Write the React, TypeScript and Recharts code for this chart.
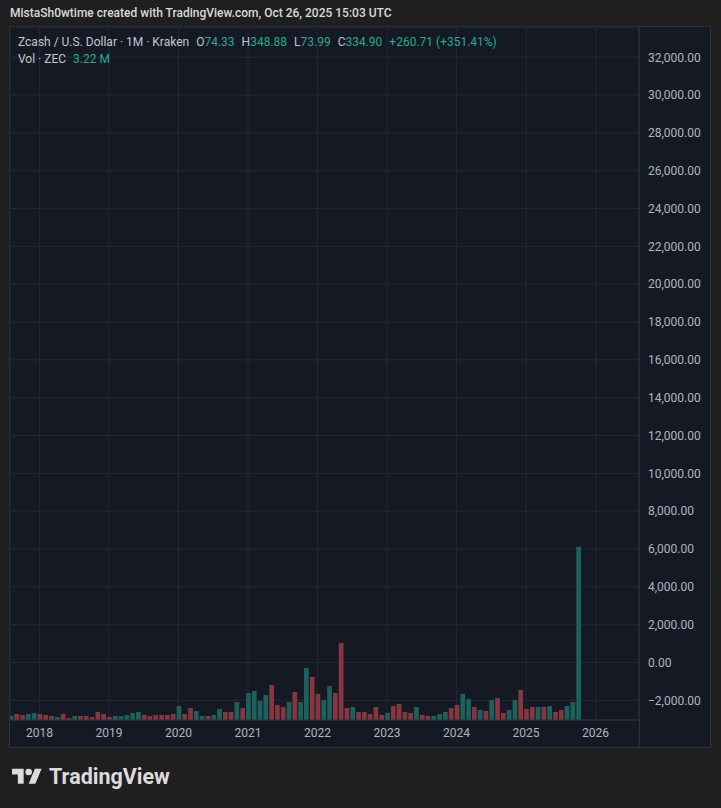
import React from "react";
import { ComposedChart, Bar, XAxis, YAxis, CartesianGrid, Cell } from "recharts";

// monthly ZEC volume (thousands), Aug 2017 -> Oct 2025
const VOLUME_K = [
  74, 112, 93, 112, 130, 112, 93, 74, 56, 112, 37, 74, 74, 74, 56, 149, 112, 56, 74, 74,
  93, 130, 149, 93, 74, 93, 93, 93, 112, 260, 112, 223, 167, 74, 74, 93, 205, 149, 149, 335,
  223, 502, 539, 353, 465, 651, 279, 242, 335, 521, 335, 967, 800, 484, 372, 632, 502, 1432, 223, 242,
  149, 149, 112, 242, 93, 130, 260, 298, 149, 130, 242, 93, 74, 74, 112, 149, 223, 279, 484, 391,
  242, 186, 167, 372, 409, 130, 186, 372, 558, 205, 242, 242, 242, 260, 149, 186, 260, 335, 3220,
];

// candle direction for each month: u = close above open, d = below
const DIRECTION = [
  "u", "d", "d", "u", "u", "d", "d", "d", "u", "d", "d", "u", "d", "d", "d", "d", "d", "d", "u", "u",
  "u", "u", "u", "d", "d", "d", "d", "d", "d", "u", "d", "d", "u", "u", "d", "u", "u", "d", "d", "u",
  "d", "u", "u", "u", "u", "d", "d", "d", "u", "d", "u", "u", "d", "d", "u", "u", "d", "d", "d", "u",
  "d", "d", "d", "d", "d", "u", "d", "d", "d", "d", "u", "d", "d", "u", "u", "u", "d", "d", "u", "u",
  "d", "u", "d", "u", "d", "d", "u", "u", "d", "d", "d", "u", "d", "u", "d", "d", "u", "u", "u",
];

const FIRST_YEAR = 2017;
const FIRST_MONTH = 8; // August
const YEAR_LABELS = ["2018", "2019", "2020", "2021", "2022", "2023", "2024", "2025", "2026"];
const PRICE_TICKS = [
  -2000, 0, 2000, 4000, 6000, 8000, 10000, 12000, 14000, 16000, 18000, 20000, 22000, 24000,
  26000, 28000, 30000, 32000,
];

const UP = "#1c625c";
const DOWN = "#86363e";
const TEAL = "#22ab94";
const GRID = "#242833";
const EDGE = "#2e323e";
const TXT = "#b2b5be";

const data = VOLUME_K.map((v, i) => ({ idx: i, vol: v, dir: DIRECTION[i] }));
const yearTicks = YEAR_LABELS.map((y) => (Number(y) - FIRST_YEAR) * 12 - (FIRST_MONTH - 1));

const fmtPrice = (v: number) =>
  v.toLocaleString("en-US", { minimumFractionDigits: 2, maximumFractionDigits: 2 }).replace("-", "\u2212");

const fmtYear = (v: number) => String(FIRST_YEAR + Math.floor((v + FIRST_MONTH - 1) / 12));

function Logo() {
  return (
    <div style={{ position: "absolute", left: 12, top: 764, display: "flex", alignItems: "center" }}>
      <svg width={30} height={24} viewBox="0 0 36 28" fill="#dcdcdc">
        <path d="M14 22H7V11H0V4h14v18zM28 22h-8l7.5-18h8L28 22z" />
        <circle cx={20} cy={8} r={4} />
      </svg>
      <span style={{ marginLeft: 7, fontSize: 21.5, fontWeight: 700, color: "#dcdcdc" }}>TradingView</span>
    </div>
  );
}

export default function App() {
  const font = "Roboto, 'Noto Sans', sans-serif";
  const gap = 7;
  return (
    <div
      style={{
        position: "fixed",
        left: 0,
        top: 0,
        width: 721,
        height: 808,
        background: "#1f1f1f",
        fontFamily: font,
        overflow: "hidden",
      }}
    >
      <div style={{ position: "absolute", left: 10, top: 6, fontSize: 12, fontWeight: 500, color: "#dadada" }}>
        MistaSh0wtime created with TradingView.com, Oct 26, 2025 15:03 UTC
      </div>

      <div
        style={{
          position: "absolute",
          left: 9,
          top: 26,
          width: 700,
          height: 720,
          background: "#151924",
          border: `1px solid ${EDGE}`,
        }}
      />
      <div style={{ position: "absolute", left: 639, top: 720, width: 1, height: 27, background: EDGE }} />

      <div style={{ position: "absolute", left: 0, top: 0 }}>
        <ComposedChart
          width={721}
          height={808}
          data={data}
          margin={{ top: 27, left: 10, right: 11, bottom: 60 }}
        >
          <CartesianGrid stroke={GRID} strokeWidth={1} />
          <XAxis
            dataKey="idx"
            type="number"
            domain={[-0.09, 108.5]}
            allowDataOverflow
            ticks={yearTicks}
            tickFormatter={fmtYear}
            height={28}
            axisLine={{ stroke: EDGE }}
            tickLine={false}
            tickSize={6}
            tickMargin={2}
            tick={{ fill: TXT, fontSize: 12, fontFamily: font }}
          />
          <YAxis
            orientation="right"
            type="number"
            domain={[-3040, 33600]}
            allowDataOverflow
            ticks={PRICE_TICKS}
            tickFormatter={fmtPrice}
            width={71}
            axisLine={{ stroke: EDGE }}
            tickLine={false}
            tickSize={6}
            tickMargin={3}
            tick={{ fill: TXT, fontSize: 12, fontFamily: font, textAnchor: "start" }}
          />
          <YAxis yAxisId="vol" hide domain={[0, 12880]} allowDataOverflow />
          <Bar dataKey="vol" yAxisId="vol" barSize={4.7} isAnimationActive={false}>
            {data.map((d) => (
              <Cell key={d.idx} fill={d.dir === "u" ? UP : DOWN} />
            ))}
          </Bar>
        </ComposedChart>
      </div>

      <div style={{ position: "absolute", left: 18, top: 35, fontSize: 12, color: "#c3c6ce", whiteSpace: "pre" }}>
        <span>Zcash / U.S. Dollar · 1M · Kraken</span>
        <span style={{ marginLeft: gap }}>O</span>
        <span style={{ color: TEAL }}>74.33</span>
        <span style={{ marginLeft: gap }}>H</span>
        <span style={{ color: TEAL }}>348.88</span>
        <span style={{ marginLeft: gap }}>L</span>
        <span style={{ color: TEAL }}>73.99</span>
        <span style={{ marginLeft: gap }}>C</span>
        <span style={{ color: TEAL }}>334.90</span>
        <span style={{ color: TEAL, marginLeft: gap }}>+260.71 (+351.41%)</span>
      </div>
      <div style={{ position: "absolute", left: 18, top: 52, fontSize: 12, color: "#c3c6ce", whiteSpace: "pre" }}>
        <span>Vol · ZEC</span>
        <span style={{ color: TEAL, marginLeft: gap }}>3.22 M</span>
      </div>

      <Logo />
    </div>
  );
}
